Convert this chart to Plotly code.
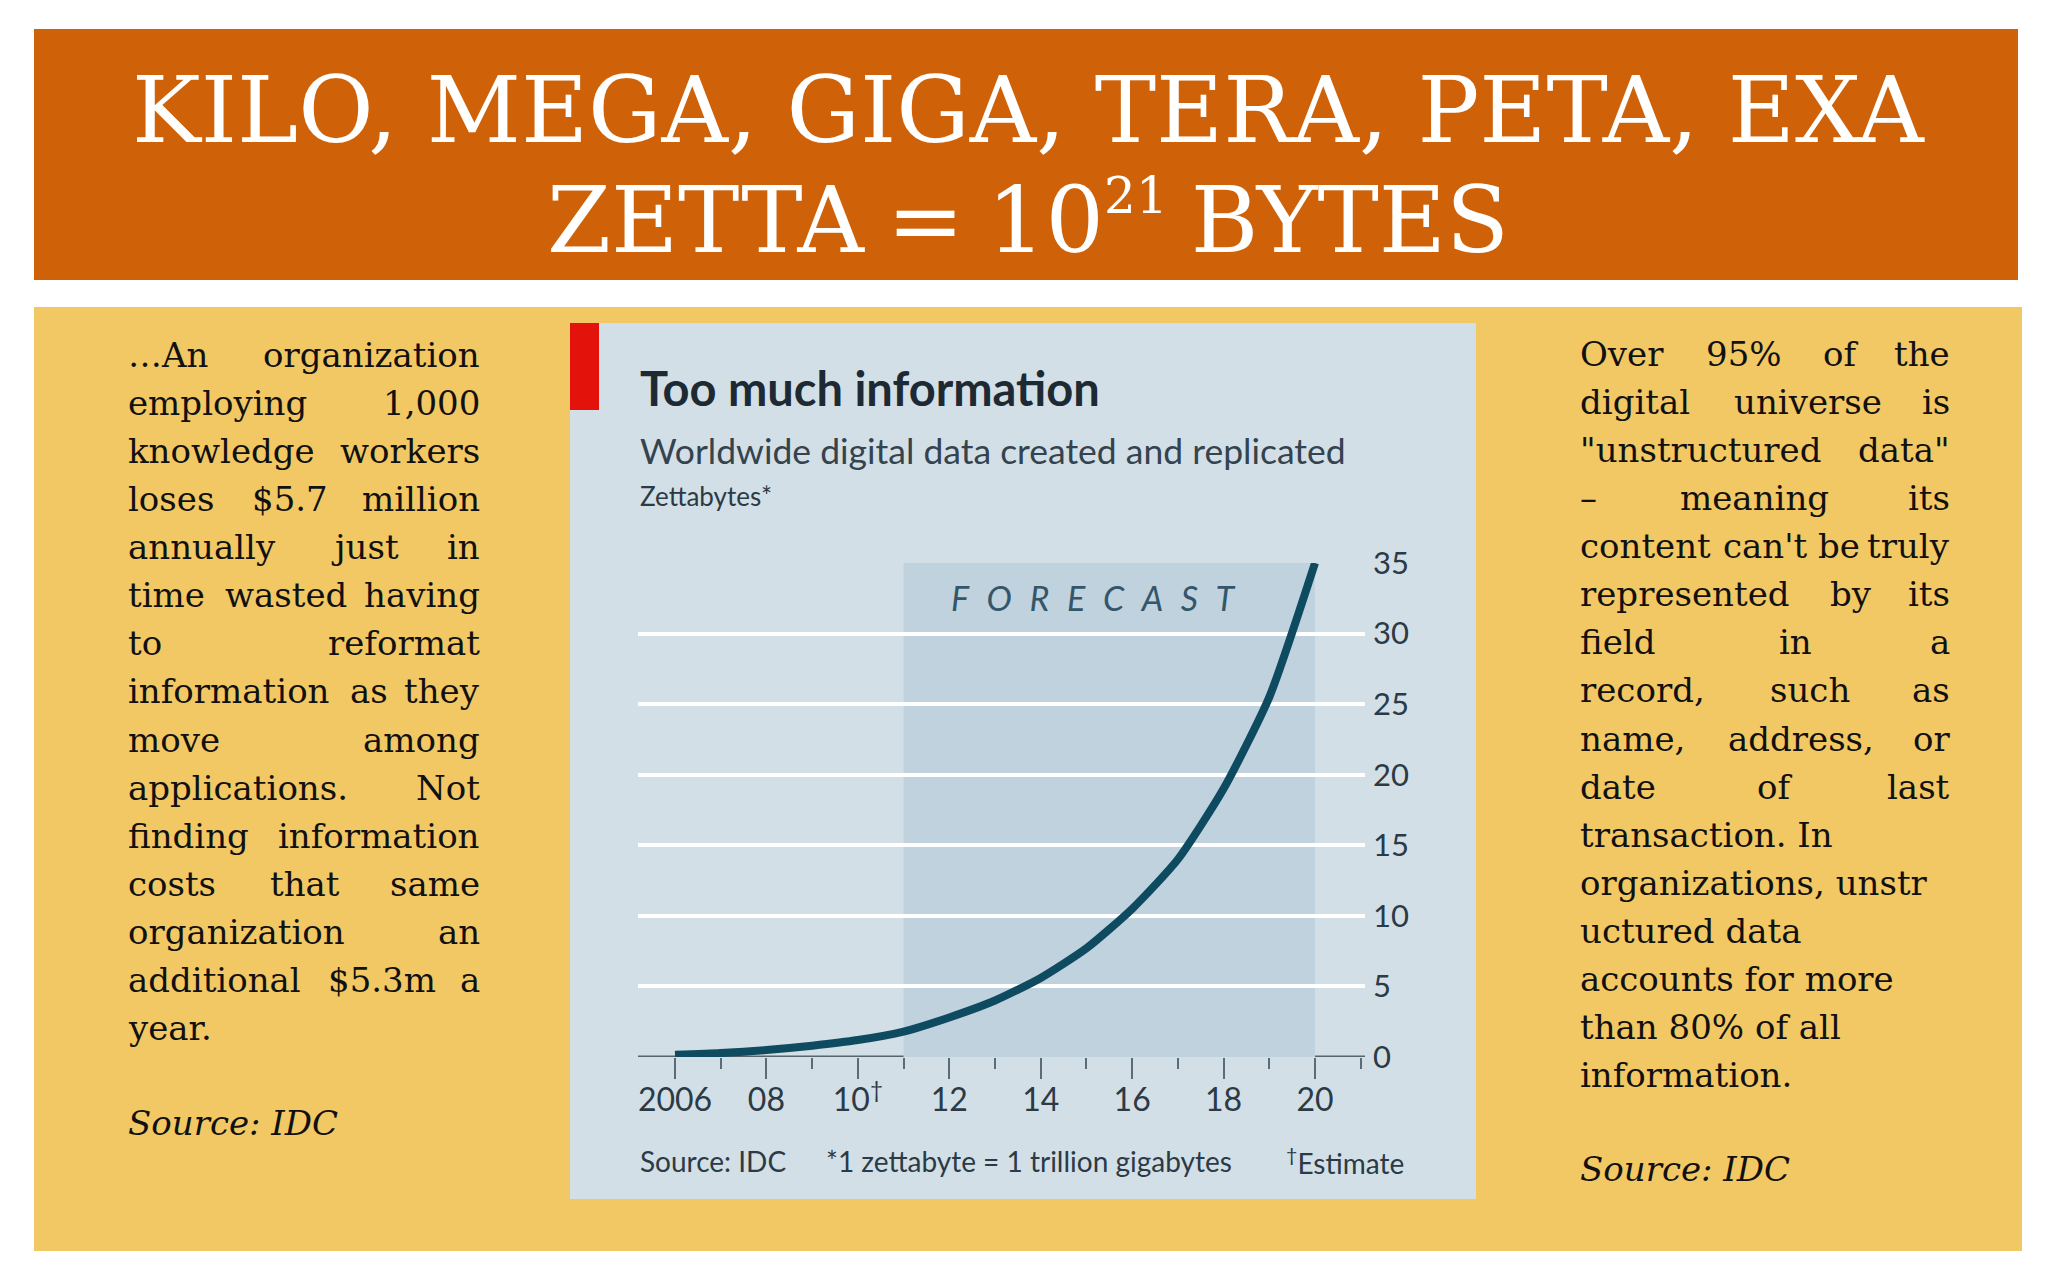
import plotly.graph_objects as go

# ---------------- data ----------------
years = [2006, 2007, 2008, 2009, 2010, 2011, 2012, 2013, 2014, 2015, 2016, 2017, 2018, 2019, 2020]
zettabytes = [0.16, 0.28, 0.49, 0.8, 1.2, 1.8, 2.8, 4.0, 5.6, 7.7, 10.5, 14.0, 19.0, 25.5, 35.0]
major_years = [2006, 2008, 2010, 2012, 2014, 2016, 2018, 2020]
major_labels = ["2006", "08", "10<sup>†</sup>", "12", "14", "16", "18", "20"]
y_ticks = [0, 5, 10, 15, 20, 25, 30, 35]
forecast_start = 2011
forecast_end = 2020

title_line1 = "KILO, MEGA, GIGA, TERA, PETA, EXA"
title_line2 = "ZETTA\u2005=\u200510<sup><span style='font-size:50px'>21</span></sup>\u2005BYTES"
chart_title = "Too much information"
chart_subtitle = "Worldwide digital data created and replicated"
chart_unit = "Zettabytes*"
forecast_label = "F\u2002\u200aO\u2002\u200aR\u2002\u200aE\u2002\u200aC\u2002\u200aA\u2002\u200aS\u2002\u200aT"
footer_source = "Source: IDC"
footer_note = "*1 zettabyte = 1 trillion gigabytes"
footer_estimate = "<sup>†</sup>Estimate"

left_lines = [
    ("…An organization", True),
    ("employing 1,000", True),
    ("knowledge workers", True),
    ("loses $5.7 million", True),
    ("annually just in", True),
    ("time wasted having", True),
    ("to reformat", True),
    ("information as they", True),
    ("move among", True),
    ("applications. Not", True),
    ("finding information", True),
    ("costs that same", True),
    ("organization an", True),
    ("additional $5.3m a", True),
    ("year.", False),
]
right_lines = [
    ("Over 95% of the", True),
    ("digital universe is", True),
    ("\"unstructured data\"", True),
    ("– meaning its", True),
    ("content can't be truly", True),
    ("represented by its", True),
    ("field in a", True),
    ("record, such as", True),
    ("name, address, or", True),
    ("date of last", True),
    ("transaction. In", False),
    ("organizations, unstr", False),
    ("uctured data", False),
    ("accounts for more", False),
    ("than 80% of all", False),
    ("information.", False),
]
source_text = "Source: IDC"

# ---------------- layout helpers ----------------
W, H = 2048, 1280


def X(px):
    return px / W


def Y(py):
    return 1 - py / H


ORANGE = "#CF6208"
YELLOW = "#F2C864"
PANEL = "#D3DFE6"
FORECAST_BG = "#C0D2DD"
RED = "#E3120B"
LINE = "#0E4B61"
DARK = "#2B3A45"
SERIF = "DejaVu Serif"
SANS = "Lato"

CW = {
    'a': .596, 'b': .640, 'c': .560, 'd': .640, 'e': .592, 'f': .370, 'g': .640, 'h': .644,
    'i': .320, 'j': .310, 'k': .606, 'l': .320, 'm': .948, 'n': .644, 'o': .602, 'p': .640,
    'q': .640, 'r': .478, 's': .513, 't': .402, 'u': .644, 'v': .565, 'w': .856, 'x': .564,
    'y': .565, 'z': .527, 'A': .722, 'N': .838, 'O': .820, 'I': .402, 'D': .802, 'S': .685,
    'C': .765, '.': .318, ',': .318, '$': .636, '%': .950, '"': .460, "'": .275, '–': .500,
    '…': 1.0, ':': .337, ' ': .318,
}


def text_w(s, size):
    return sum(CW.get(ch, .636) for ch in s) * size


BODY = 34
LINE_H = 48.07
TEXT_COLOR = "#111111"
annotations = []


def add_text(txt, x, y, size, color, family, xanchor="left", yanchor="middle", style="normal", weight="normal"):
    annotations.append(dict(
        text=txt, x=X(x), y=Y(y), xref="paper", yref="paper", showarrow=False,
        xanchor=xanchor, yanchor=yanchor,
        font=dict(size=size, color=color, family=family, style=style, weight=weight),
    ))


def add_column(lines, left, right, top):
    for i, (line, justify) in enumerate(lines):
        yc = top + i * LINE_H - 3
        words = line.split(" ")
        if justify and len(words) > 1:
            widths = [text_w(w, BODY) for w in words]
            gap = (right - left - sum(widths)) / (len(words) - 1)
            xpos = left
            for j, wd in enumerate(words):
                if j == len(words) - 1:
                    add_text(wd, right, yc, BODY, TEXT_COLOR, SERIF, xanchor="right")
                else:
                    add_text(wd, xpos, yc, BODY, TEXT_COLOR, SERIF)
                xpos += widths[j] + gap
        else:
            add_text(line, left, yc, BODY, TEXT_COLOR, SERIF)


fig = go.Figure()

fig.add_trace(go.Scatter(
    x=years, y=zettabytes, mode="lines",
    line=dict(color=LINE, width=8, shape="spline", smoothing=0.6),
    cliponaxis=False, hoverinfo="skip", showlegend=False,
))

x_left_px, x_right_px = 638, 1365
px_2006, px_2020 = 675, 1315
per_year = (px_2020 - px_2006) / 14
x_range = [2006 - (px_2006 - x_left_px) / per_year, 2020 + (x_right_px - px_2020) / per_year]

shapes = [
    dict(type="rect", xref="paper", yref="paper", x0=X(34), x1=X(2018), y0=Y(280), y1=Y(29),
         fillcolor=ORANGE, line=dict(width=0), layer="below"),
    dict(type="rect", xref="paper", yref="paper", x0=X(34), x1=X(2022), y0=Y(1251), y1=Y(307),
         fillcolor=YELLOW, line=dict(width=0), layer="below"),
    dict(type="rect", xref="paper", yref="paper", x0=X(570), x1=X(1476), y0=Y(1199), y1=Y(323),
         fillcolor=PANEL, line=dict(width=0), layer="below"),
    dict(type="rect", xref="paper", yref="paper", x0=X(570), x1=X(599), y0=Y(410), y1=Y(323),
         fillcolor=RED, line=dict(width=0), layer="below"),
    dict(type="rect", xref="x", yref="y", x0=forecast_start, x1=forecast_end, y0=0, y1=35,
         fillcolor=FORECAST_BG, line=dict(width=0), layer="below"),
    dict(type="line", xref="paper", yref="y", x0=X(x_left_px), x1=X(x_right_px), y0=0, y1=0,
         line=dict(color="#55646E", width=3), layer="between"),
]

add_text(title_line1, 1028, 110, 92, "white", SERIF, xanchor="center")
add_text(title_line2, 1028, 220, 92, "white", SERIF, xanchor="center")

add_text(chart_title, 638, 388, 47, "#1E2A33", SANS, weight="bold")
add_text(chart_subtitle, 638, 450, 35.5, "#34434E", SANS)
add_text(chart_unit, 638, 496, 26, DARK, SANS)
add_text(forecast_label, 1093, 597, 34, "#33566A", SANS, xanchor="center", style="italic")
add_text(footer_source, 638, 1161, 28, DARK, SANS)
add_text(footer_note, 824, 1161, 28, DARK, SANS)
add_text(footer_estimate, 1406, 1161, 28, DARK, SANS, xanchor="right")

add_column(left_lines, 126, 482, 358)
add_text(source_text, 126, 1126 - 3, BODY, TEXT_COLOR, SERIF, style="italic")
add_column(right_lines, 1578, 1952, 357)
add_text(source_text, 1578, 1172 - 3, BODY, TEXT_COLOR, SERIF, style="italic")

fig.update_layout(
    width=W, height=H,
    margin=dict(l=0, r=0, t=0, b=0, pad=0, autoexpand=False),
    paper_bgcolor="white",
    plot_bgcolor="rgba(0,0,0,0)",
    showlegend=False,
    shapes=shapes,
    annotations=annotations,
    xaxis=dict(
        domain=[X(x_left_px), X(x_right_px)],
        range=x_range,
        showgrid=False, zeroline=False, showline=False,
        tickmode="array", tickvals=major_years, ticktext=major_labels,
        ticks="outside", ticklen=21, tickwidth=2, tickcolor="#5C6B75",
        tickfont=dict(family=SANS, size=32, color=DARK),
        ticklabelstandoff=-6,
        minor=dict(tick0=2006, dtick=1, ticks="outside", ticklen=11, tickwidth=2, tickcolor="#5C6B75"),
        fixedrange=True, automargin=False,
    ),
    yaxis=dict(
        domain=[Y(1057), Y(563)],
        range=[0, 35],
        side="right",
        tickmode="array", tickvals=y_ticks, ticktext=[str(v) for v in y_ticks],
        showgrid=True, gridcolor="white", gridwidth=4,
        zeroline=False, showline=False, ticks="",
        tickfont=dict(family=SANS, size=31, color=DARK),
        ticklabelstandoff=7,
        fixedrange=True, automargin=False,
    ),
)

fig.write_html("out.html", config={"displayModeBar": False},
               post_script="document.body.style.margin='0';")
